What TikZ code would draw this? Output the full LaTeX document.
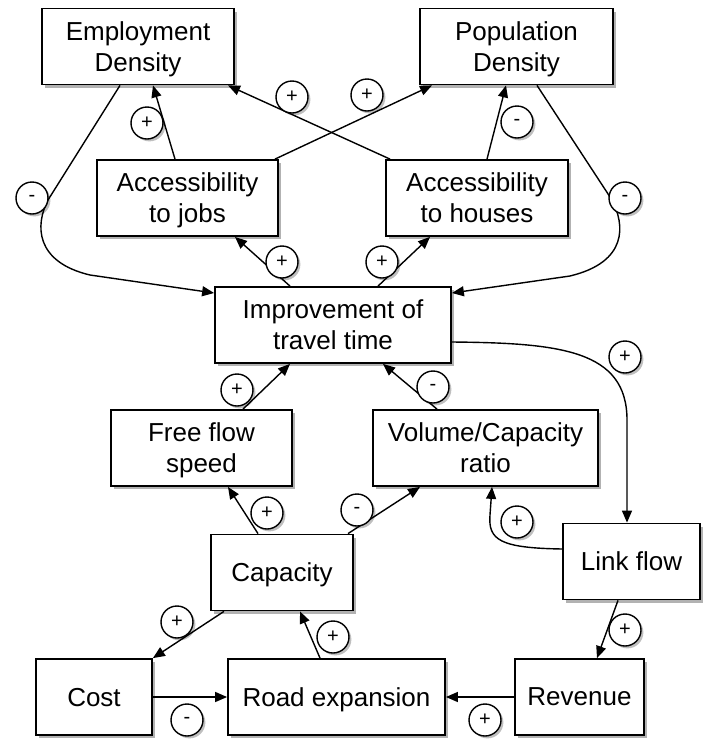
\documentclass[tikz,border=0pt]{standalone}
\usepackage{fontspec}
\setmainfont{Liberation Sans}
\usetikzlibrary{arrows.meta,shadows}

\begin{document}
\begin{tikzpicture}[x=0.5pt,y=-0.5pt,
  box/.style={draw,line width=0.9pt,fill=white,align=center,minimum height=38pt,inner sep=2pt,
    font=\fontsize{13}{15.5}\selectfont,text depth=-3pt,
    drop shadow={shadow xshift=1.6pt,shadow yshift=-1.6pt,fill=black,opacity=0.3}},
  sign/.style={draw,circle,line width=0.7pt,fill=white,minimum size=16pt,inner sep=0pt,
    font=\fontsize{10}{10}\selectfont,
    drop shadow={shadow xshift=1.2pt,shadow yshift=-1.2pt,fill=black,opacity=0.25}},
  conn/.style={-{Triangle[length=6pt,width=5pt]},line width=0.7pt}]
\useasboundingbox (0,0) rectangle (703,740);
% boxes
\node[box,minimum width=96pt] (emp) at (138,46.5) {Employment\\Density};
\node[box,minimum width=96.5pt] (pop) at (516.5,46.5) {Population\\Density};
\node[box,minimum width=90.5pt] (accj) at (187.5,198) {Accessibility\\to jobs};
\node[box,minimum width=91pt] (acch) at (477,198) {Accessibility\\to houses};
\node[box,minimum width=118pt] (imp) at (333,325) {Improvement of\\travel time};
\node[box,minimum width=90.5pt] (ffs) at (201.5,448) {Free flow\\speed};
\node[box,minimum width=112.5pt] (vcr) at (485.5,448) {Volume/Capacity\\ratio};
\node[box,minimum width=71pt] (cap) at (282,572.5) {Capacity};
\node[box,minimum width=68.5pt] (link) at (631.5,561.5) {Link flow};
\node[box,minimum width=58pt] (cost) at (94,697) {Cost};
\node[box,minimum width=108.5pt] (road) at (336.5,697) {Road expansion};
\node[box,minimum width=64.5pt] (rev) at (579.5,697) {Revenue};
% connectors
\draw[conn] (175,0 |- accj.north) -- (153,0 |- emp.south);
\draw[conn] (390,0 |- acch.north) -- (228,0 |- emp.south);
\draw[conn] (275,0 |- accj.north) -- (432,0 |- pop.south);
\draw[conn] (487,0 |- acch.north) -- (506,0 |- pop.south);
\draw[conn] (120,0 |- emp.south) -- (48,200) .. controls (35,225) and (35,262) .. (90,275) -- (imp.west |- 0,293);
\draw[conn] (537,0 |- pop.south) -- (612,200) .. controls (625,225) and (628,262) .. (570,276) -- (imp.east |- 0,293);
\draw[conn] (290,0 |- imp.north) -- (235,0 |- accj.south);
\draw[conn] (378,0 |- imp.north) -- (430,0 |- acch.south);
\draw[conn] (243,0 |- ffs.north) -- (290,0 |- imp.south);
\draw[conn] (437,0 |- vcr.north) -- (383,0 |- imp.south);
\draw[conn] (imp.east |- 0,342) .. controls (560,343) and (627,350) .. (627,420) -- (627,0 |- link.north);
\draw[conn] (258,0 |- cap.north) -- (228,0 |- ffs.south);
\draw[conn] (348,0 |- cap.north) -- (420,0 |- vcr.south);
\draw[conn] (link.west |- 0,549) .. controls (500,548) and (488,540) .. (490,515) -- (492,0 |- vcr.south);
\draw[conn] (618,0 |- link.south) -- (597,0 |- rev.north);
\draw[conn] (rev.west) -- (road.east);
\draw[conn] (cost.east) -- (road.west);
\draw[conn] (224,0 |- cap.south) -- (cost.north east);
\draw[conn] (320,0 |- road.north) -- (300,0 |- cap.south);
% polarity signs
\foreach \x/\y/\s [count=\i] in {147/123/+, 292/97/+, 367/95/+, 517/122/-, 32/198/-, 625/198/-,
  282/262/+, 382/262/+, 237/390/+, 433/387/-, 625/357/+, 267/513/+, 357/510/-, 517/522/+,
  625/630/+, 485/720/+, 187/720/-, 177/622/+, 333/637/+}
  \node[sign] (s\i) at (\x,\y) {\s};
\end{tikzpicture}
\end{document}
